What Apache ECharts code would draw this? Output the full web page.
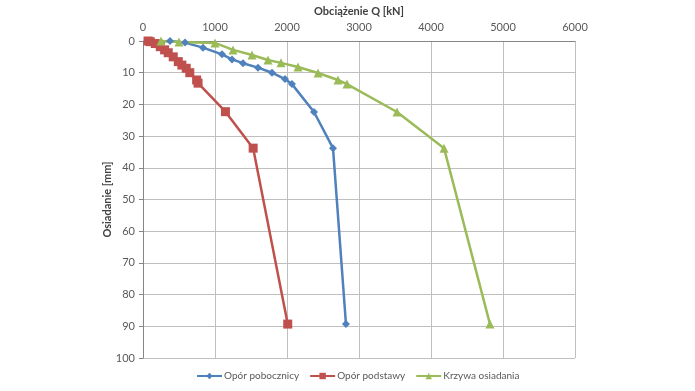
<!DOCTYPE html>
<html><head><meta charset="utf-8">
<script src="https://cdn.jsdelivr.net/npm/echarts@6/dist/echarts.min.js"></script>
<style>html,body{margin:0;padding:0;background:#fff}#c{width:695px;height:391px}</style>
</head><body><div id="c"></div>
<script>
const blueQ = [100, 375, 583, 833, 1097, 1236, 1389, 1597, 1792, 1972, 2069, 2375, 2639, 2819];
const blueS = [0, 0, 0.5, 2.1, 4.2, 5.8, 7.0, 8.4, 10.0, 12.0, 13.6, 22.4, 33.8, 89.3];
const redQ = [70, 100, 170, 240, 300, 350, 420, 490, 540, 600, 650, 745, 765, 1145, 1530, 2010];
const redS = [0, 0.2, 0.8, 1.8, 2.8, 3.7, 5.0, 6.5, 7.6, 8.6, 10.0, 12.3, 13.3, 22.3, 33.8, 89.3];
const greenQ = [250, 500, 1000, 1250, 1514, 1736, 1917, 2153, 2431, 2708, 2833, 3528, 4181, 4819];
const greenS = [0, 0.3, 0.6, 2.8, 4.4, 6.0, 6.9, 8.2, 10.1, 12.3, 13.6, 22.4, 33.8, 89.3];
const seriesNames = ['Opór pobocznicy', 'Opór podstawy', 'Krzywa osiadania'];
const xName = 'Obciążenie Q [kN]';
const yName = 'Osiadanie [mm]';

const zip = (a, b) => a.map((v, i) => [v, b[i]]);
const font = 'Lato, "Open Sans", sans-serif';
const chart = echarts.init(document.getElementById('c'), null, {renderer: 'canvas'});
const mk = (name, q, s, color, symbol, size) => ({
  name, type: 'line', data: zip(q, s), color,
  symbol, symbolSize: size, showSymbol: true,
  lineStyle: {width: 2.5, color}, itemStyle: {color},
  emphasis: {disabled: true}, animation: false
});
chart.setOption({
  animation: false,
  textStyle: {fontFamily: font},
  grid: {left: 143, right: 120, top: 41, bottom: 33, containLabel: false},
  xAxis: {
    type: 'value', position: 'top', min: 0, max: 6000, interval: 1000,
    name: xName, nameLocation: 'middle', nameGap: 22,
    nameTextStyle: {fontWeight: 'bold', fontSize: 11, color: '#404040', fontFamily: font},
    axisLine: {show: true, lineStyle: {color: '#868686'}},
    axisTick: {show: false},
    axisLabel: {fontSize: 11, color: '#595959', margin: 8, fontFamily: font, formatter: v => String(v)},
    splitLine: {show: true, lineStyle: {color: '#BFBFBF', width: 1}}
  },
  yAxis: {
    type: 'value', inverse: true, min: 0, max: 100, interval: 10,
    name: yName, nameLocation: 'middle', nameGap: 30, nameRotate: 90, nameMoveOverlap: false,
    nameTextStyle: {fontWeight: 'bold', fontSize: 11, color: '#404040', fontFamily: font},
    axisLine: {show: true, lineStyle: {color: '#868686'}},
    axisTick: {show: true, length: 4, lineStyle: {color: '#868686'}},
    axisLabel: {fontSize: 11, color: '#595959', margin: 8, fontFamily: font},
    splitLine: {show: true, lineStyle: {color: '#BFBFBF', width: 1}}
  },
  legend: {
    bottom: 5, left: 191, itemWidth: 25, itemHeight: 8, itemGap: 10,
    textStyle: {fontSize: 10, color: '#595959', fontFamily: font, padding: [0, 0, 0, -3]},
    data: seriesNames
  },
  series: [
    mk(seriesNames[0], blueQ, blueS, '#4F81BD', 'diamond', 8),
    mk(seriesNames[1], redQ, redS, '#C0504D', 'rect', 9),
    mk(seriesNames[2], greenQ, greenS, '#9BBB59', 'triangle', 9)
  ]
});
</script></body></html>
